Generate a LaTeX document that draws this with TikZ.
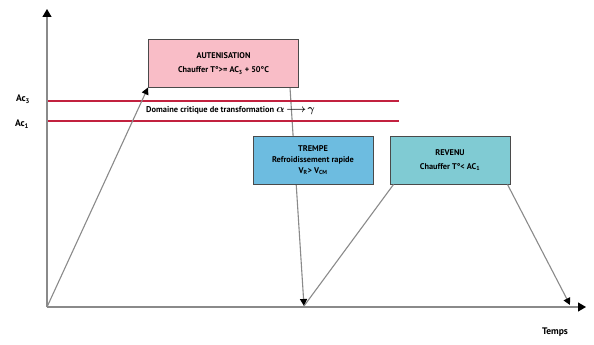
\documentclass[tikz,border=0pt]{standalone}
\usepackage{fontspec}
\setmainfont{PT Sans}
\usepackage{amsmath,bm}
\usetikzlibrary{positioning,arrows.meta,calc}
\definecolor{pinkfill}{HTML}{F9BDC7}
\definecolor{bluefill}{HTML}{6DBCE0}
\definecolor{tealfill}{HTML}{80CBD3}
\definecolor{crimson}{HTML}{C2213F}
\definecolor{axisgray}{HTML}{8A8A8A}
\definecolor{edge}{HTML}{4A4A4A}
\pgfdeclarelayer{bg}
\pgfsetlayers{bg,main}
\tikzset{
  box/.style={draw=edge, line width=1pt, align=center, inner sep=2pt,
    font=\bfseries\fontsize{8.3pt}{11pt}\selectfont, minimum width=120pt, minimum height=48pt},
  axis/.style={-{Triangle[length=8pt,width=9pt,color=black]}, line width=1.2pt, color=axisgray},
  arr/.style={-{Triangle[length=7pt,width=7pt,color=black]}, line width=1.1pt, color=axisgray},
  seg/.style={line width=1.1pt, color=axisgray},
  crit/.style={line width=1.4pt, color=crimson},
  lab/.style={font=\bfseries\fontsize{9.5pt}{11pt}\selectfont},
}

\begin{document}
\begin{tikzpicture}[x=1pt, y=-1pt]
    \useasboundingbox (0,0) rectangle (594,345);
    \coordinate (O) at (47,307);
    \coordinate (ytop) at (47,9);
    \coordinate (xend) at (586,307);
    \coordinate (q) at (304,306);
    \coordinate (fin) at (570,305);
    % boxes
    \node[box, fill=pinkfill, minimum width=150pt, minimum height=47pt] (aut) at (223.5,63.5)
      {AUTENISATION\\[3pt]Chauffer T°>= AC\textsubscript{3} + 50°C};
    \node[box, fill=bluefill] (tre) at (313,160)
      {TREMPE\\Refroidissement rapide\\V\textsubscript{R}> V\textsubscript{CM}};
    \node[box, fill=tealfill, right=16pt of tre] (rev)
      {REVENU\\[3pt]Chauffer T°< AC\textsubscript{1}};
    % levels
    \node[lab] (ac3) at (23,99) {Ac\textsubscript{3}};
    \node[lab] (ac1) at (22,124) {Ac\textsubscript{1}};
    \draw[crit] (47,101) -- (399,101);
    \draw[crit] (47,121) -- (399,121);
    \node[font=\bfseries\fontsize{8.4pt}{10pt}\selectfont, anchor=west, inner sep=0pt] (dom) at (146,111)
      {Domaine critique de transformation~{\fontsize{11pt}{11pt}\selectfont\boldmath$\alpha\!\longrightarrow\!\gamma$}};
    \node[lab] (temps) at (555,332) {Temps};
    % axes and cycle
    \draw[axis] (O) -- (ytop);
    \draw[axis] (O) -- (xend);
    \draw[arr] (O) -- (aut.south west);
    \begin{pgfonlayer}{bg}
      \draw[arr] ($(aut.south east)+(-9,0)$) -- (q);
    \end{pgfonlayer}
    \draw[seg] (q) -- ($(rev.south west)+(4,0)$);
    \draw[arr] ($(rev.south east)+(-3,0)$) -- (fin);
\end{tikzpicture}
\end{document}
